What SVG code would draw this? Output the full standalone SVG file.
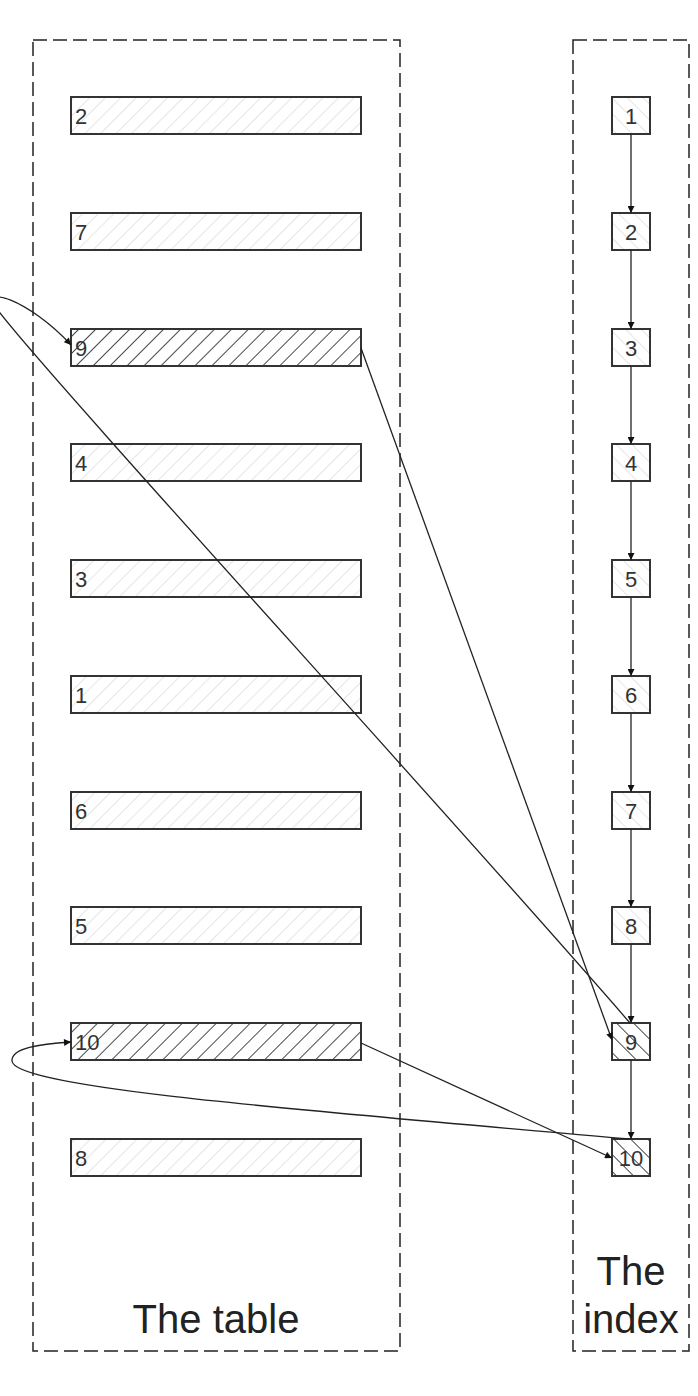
<svg xmlns="http://www.w3.org/2000/svg" width="698" height="1396" viewBox="0 0 698 1396">
<style>
.cont{fill:none;stroke:#222;stroke-width:1.5;stroke-dasharray:14,6}
.row{stroke:#333;stroke-width:2}
.light{fill:url(#hl)}
.dark{fill:url(#hd)}
.ilight{fill:url(#hil)}
.idark{fill:url(#hid)}
.lbl{font-family:"Liberation Sans",Arial,sans-serif;font-size:22px;fill:#333}
.title{font-family:"Liberation Sans",Arial,sans-serif;font-size:40px;fill:#222;text-anchor:middle}
.conn path,.conn line{fill:none;stroke:#222;stroke-width:1.3;marker-end:url(#arr)}
</style>
<defs>
<pattern id="hl" width="11" height="11" patternUnits="userSpaceOnUse" patternTransform="rotate(45)"><rect width="11" height="11" fill="#fff"/><line x1="0" y1="0" x2="0" y2="11" stroke="#d4d4d4" stroke-width="1.2"/></pattern>
<pattern id="hd" width="12" height="12" patternUnits="userSpaceOnUse" patternTransform="rotate(45)"><rect width="12" height="12" fill="#fff"/><line x1="0" y1="0" x2="0" y2="12" stroke="#333" stroke-width="1.8"/></pattern>
<pattern id="hil" width="11" height="11" patternUnits="userSpaceOnUse" patternTransform="rotate(-45)"><rect width="11" height="11" fill="#fff"/><line x1="0" y1="0" x2="0" y2="11" stroke="#d4d4d4" stroke-width="1.2"/></pattern>
<pattern id="hid" width="12" height="12" patternUnits="userSpaceOnUse" patternTransform="rotate(-45)"><rect width="12" height="12" fill="#fff"/><line x1="0" y1="0" x2="0" y2="12" stroke="#333" stroke-width="1.8"/></pattern>
<marker id="arr" viewBox="0 0 10 10" refX="10" refY="5" markerWidth="8" markerHeight="7" markerUnits="userSpaceOnUse" orient="auto"><path d="M0,0 L10,5 L0,10 Z" fill="#111"/></marker>
</defs>
<rect width="698" height="1396" fill="#fff"/>

<g id="table">
<rect class="cont" x="33" y="40" width="367" height="1311"/>
<text class="title" x="216" y="1333">The table</text>
</g>
<g id="index">
<rect class="cont" x="573" y="40" width="116" height="1311"/>
<text class="title" x="631" y="1285">The</text>
<text class="title" x="631" y="1333">index</text>
</g>

<g id="row-2"><rect class="row light" x="71" y="97" width="290" height="37"/><text class="lbl" x="75" y="124">2</text></g>
<g id="row-7"><rect class="row light" x="71" y="213" width="290" height="37"/><text class="lbl" x="75" y="240">7</text></g>
<g id="row-9"><rect class="row dark" x="71" y="329" width="290" height="37"/><text class="lbl" x="75" y="356">9</text></g>
<g id="row-4"><rect class="row light" x="71" y="444" width="290" height="37"/><text class="lbl" x="75" y="471">4</text></g>
<g id="row-3"><rect class="row light" x="71" y="560" width="290" height="37"/><text class="lbl" x="75" y="587">3</text></g>
<g id="row-1"><rect class="row light" x="71" y="676" width="290" height="37"/><text class="lbl" x="75" y="703">1</text></g>
<g id="row-6"><rect class="row light" x="71" y="792" width="290" height="37"/><text class="lbl" x="75" y="819">6</text></g>
<g id="row-5"><rect class="row light" x="71" y="907" width="290" height="37"/><text class="lbl" x="75" y="934">5</text></g>
<g id="row-10"><rect class="row dark" x="71" y="1023" width="290" height="37"/><text class="lbl" x="75" y="1050">10</text></g>
<g id="row-8"><rect class="row light" x="71" y="1139" width="290" height="37"/><text class="lbl" x="75" y="1166">8</text></g>

<g id="idx-1"><rect class="row ilight" x="612" y="97" width="38" height="37"/><text class="lbl" x="631" y="124" text-anchor="middle">1</text></g>
<g id="idx-2"><rect class="row ilight" x="612" y="213" width="38" height="37"/><text class="lbl" x="631" y="240" text-anchor="middle">2</text></g>
<g id="idx-3"><rect class="row ilight" x="612" y="329" width="38" height="37"/><text class="lbl" x="631" y="356" text-anchor="middle">3</text></g>
<g id="idx-4"><rect class="row ilight" x="612" y="444" width="38" height="37"/><text class="lbl" x="631" y="471" text-anchor="middle">4</text></g>
<g id="idx-5"><rect class="row ilight" x="612" y="560" width="38" height="37"/><text class="lbl" x="631" y="587" text-anchor="middle">5</text></g>
<g id="idx-6"><rect class="row ilight" x="612" y="676" width="38" height="37"/><text class="lbl" x="631" y="703" text-anchor="middle">6</text></g>
<g id="idx-7"><rect class="row ilight" x="612" y="792" width="38" height="37"/><text class="lbl" x="631" y="819" text-anchor="middle">7</text></g>
<g id="idx-8"><rect class="row ilight" x="612" y="907" width="38" height="37"/><text class="lbl" x="631" y="934" text-anchor="middle">8</text></g>
<g id="idx-9"><rect class="row idark" x="612" y="1023" width="38" height="37"/><text class="lbl" x="631" y="1050" text-anchor="middle">9</text></g>
<g id="idx-10"><rect class="row idark" x="612" y="1139" width="38" height="37"/><text class="lbl" x="631" y="1166" text-anchor="middle">10</text></g>

<g id="connectors" class="conn">
<line x1="631" y1="134" x2="631" y2="213"/>
<line x1="631" y1="250" x2="631" y2="329"/>
<line x1="631" y1="366" x2="631" y2="444"/>
<line x1="631" y1="481" x2="631" y2="560"/>
<line x1="631" y1="597" x2="631" y2="676"/>
<line x1="631" y1="713" x2="631" y2="792"/>
<line x1="631" y1="829" x2="631" y2="907"/>
<line x1="631" y1="944" x2="631" y2="1023"/>
<line x1="631" y1="1060" x2="631" y2="1139"/>
<line x1="361" y1="348" x2="612" y2="1040"/>
<line x1="361" y1="1043" x2="612" y2="1158"/>
<path d="M630,1023 C450,815 60,390 0,313 C-25,281 30,300 71,345"/>
<path d="M630,1139 C300,1110 14,1088 12,1061 C11,1048 40,1044 71,1042"/>
</g>
</svg>
